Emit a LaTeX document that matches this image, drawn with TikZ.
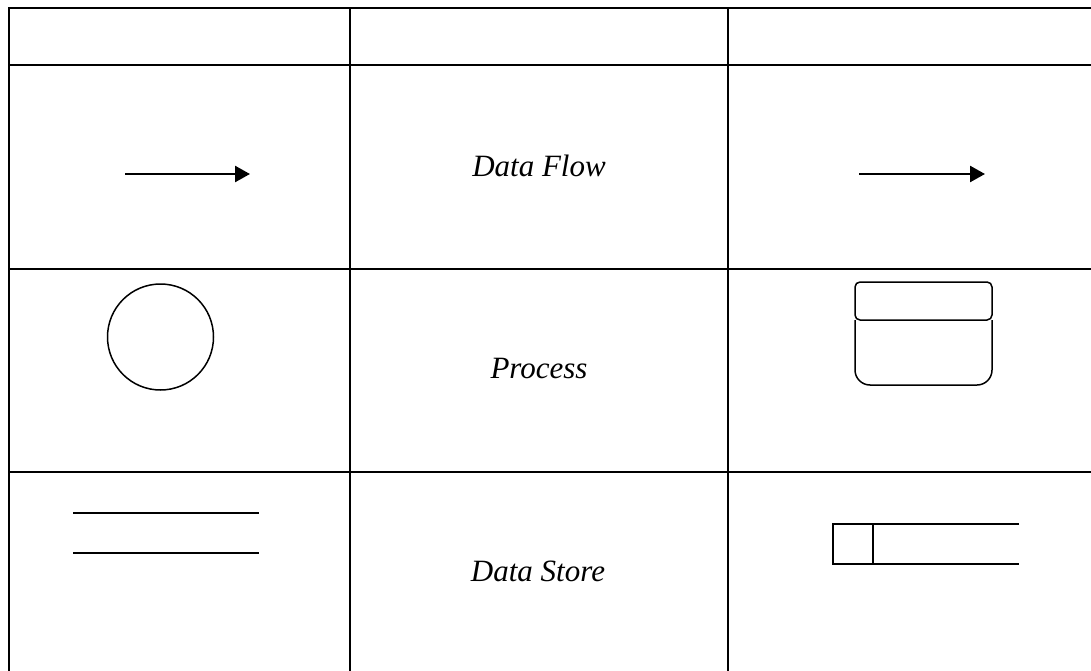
\documentclass[tikz,border=0pt]{standalone}
\usepackage{fontspec}
\setmainfont{Liberation Serif}
\usetikzlibrary{arrows.meta}
\tikzset{
  grid/.style={line width=2pt, line cap=rect},
  shapeline/.style={line width=1.5pt},
  flowarrow/.style={line width=2.5pt, -{Triangle[length=15pt,width=16pt]}},
  label/.style={font=\fontsize{31}{36}\selectfont\itshape, inner sep=0pt}
}
\begin{document}
\begin{tikzpicture}[x=1pt,y=-1pt]
\useasboundingbox (0,0) rectangle (1091,671);
\begin{scope}
\clip (0,0) rectangle (1091,671);
% table grid
\draw[grid] (9,8) -- (1100,8);
\draw[grid] (9,65) -- (1100,65);
\draw[grid] (9,269) -- (1100,269);
\draw[grid] (9,472) -- (1100,472);
\draw[grid] (9,8) -- (9,700);
\draw[grid] (350,8) -- (350,700);
\draw[grid] (728,8) -- (728,700);
\end{scope}
% data flow row
\coordinate (a1s) at (125,174);
\coordinate (a1e) at (250,174);
\draw[flowarrow] (a1s) -- (a1e);
\node[label] (df) at (539,166) {Data Flow};
\coordinate (a2s) at (859,174);
\coordinate (a2e) at (985,174);
\draw[flowarrow] (a2s) -- (a2e);
% process row
\node[shapeline, draw, circle, minimum size=106pt, inner sep=0pt] (proc) at (160.5,337) {};
\node[label] (pr) at (539,368) {Process};
\draw[shapeline, rounded corners=5pt] (855,320) rectangle (992,282);
\draw[shapeline, rounded corners=15pt] (855,320) -- (855,385) -- (992,385) -- (992,320);
% data store row
\draw[shapeline] (73,513) -- (259,513);
\draw[shapeline] (73,553) -- (259,553);
\node[label] (ds) at (538,571) {Data Store};
\draw[shapeline] (1019,524) -- (833,524) -- (833,564) -- (1019,564);
\draw[shapeline] (873,524) -- (873,564);
\end{tikzpicture}
\end{document}
